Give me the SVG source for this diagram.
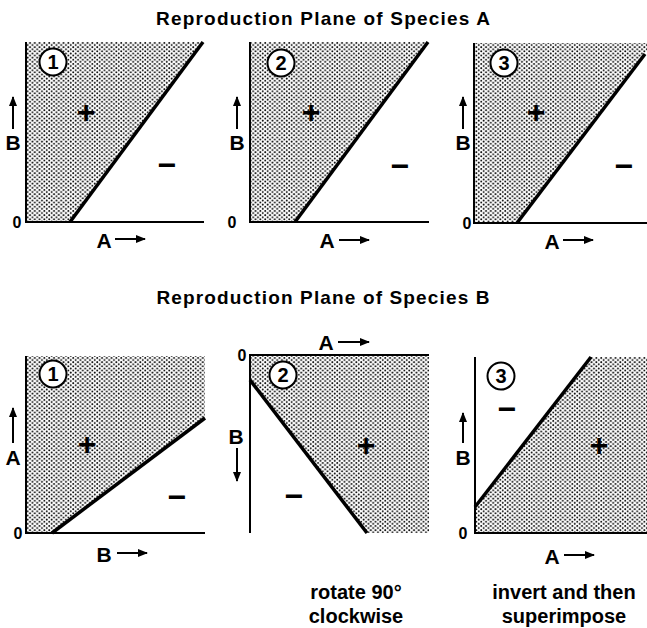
<svg xmlns="http://www.w3.org/2000/svg" width="647" height="628" viewBox="0 0 647 628">
<defs>
<pattern id="dots" patternUnits="userSpaceOnUse" width="4.8" height="4.2">
<circle cx="1.2" cy="1" r="0.95" fill="#000"/>
<circle cx="3.6" cy="3.1" r="0.95" fill="#000"/>
</pattern>
<marker id="ah" viewBox="0 0 10 8" refX="9" refY="4" markerWidth="11" markerHeight="8" markerUnits="userSpaceOnUse" orient="auto">
<path d="M0,0 L10,4 L0,8 Z" fill="#000"/>
</marker>
</defs>
<style>
text{font-family:"Liberation Sans",Arial,sans-serif;font-weight:bold;fill:#000}
.title{font-size:19px;text-anchor:middle}
.ax{font-size:21px;text-anchor:middle}
.zero{font-size:16px;text-anchor:middle}
.sign{font-size:32px;text-anchor:middle}
.num{font-size:20px;text-anchor:middle}
.cap{font-size:20px;text-anchor:middle}
.axis{stroke:#000;stroke-width:2;fill:none}
.bound{stroke:#000;stroke-width:3.5;fill:none}
.arr{stroke:#000;stroke-width:2;fill:none;marker-end:url(#ah)}
.circ{fill:#fff;stroke:#000;stroke-width:2}
</style>
<rect width="647" height="628" fill="#fff"/>

<text class="title" x="323" y="25" textLength="334">Reproduction Plane of Species A</text>
<text class="title" x="323" y="304" textLength="333">Reproduction Plane of Species B</text>

<g id="a1">
<polygon points="26,42 203,42 70,222 26,222" fill="url(#dots)"/>
<polyline class="axis" points="26,42 26,222 204,222"/>
<line class="bound" x1="70" y1="222" x2="203" y2="42"/>
<circle class="circ" cx="53" cy="62" r="13.5"/>
<text class="num" x="53" y="69">1</text>
<text class="sign" x="86" y="123">+</text>
<text class="sign" x="167" y="176">−</text>
<text class="ax" x="13" y="150">B</text>
<line class="arr" x1="13" y1="129" x2="13" y2="97"/>
<text class="zero" x="17" y="228">0</text>
<text class="ax" x="104" y="248">A</text>
<line class="arr" x1="115" y1="239" x2="145" y2="239"/>
</g>

<g id="a2">
<polygon points="250,42 428,42 295,222 250,222" fill="url(#dots)"/>
<polyline class="axis" points="250,42 250,222 429,222"/>
<line class="bound" x1="295" y1="222" x2="428" y2="42"/>
<circle class="circ" cx="281" cy="63" r="13.5"/>
<text class="num" x="281" y="70">2</text>
<text class="sign" x="311" y="123">+</text>
<text class="sign" x="400" y="177">−</text>
<text class="ax" x="237" y="150">B</text>
<line class="arr" x1="237" y1="129" x2="237" y2="97"/>
<text class="zero" x="232" y="228">0</text>
<text class="ax" x="327" y="248">A</text>
<line class="arr" x1="339" y1="240" x2="369" y2="240"/>
</g>

<g id="a3">
<polygon points="474,43 647,43 647,50 517,223 474,223" fill="url(#dots)"/>
<polyline class="axis" points="474,43 474,223 647,223"/>
<line class="bound" x1="517" y1="223" x2="645" y2="54"/>
<circle class="circ" cx="504" cy="63" r="13.5"/>
<text class="num" x="504" y="70">3</text>
<text class="sign" x="536" y="123">+</text>
<text class="sign" x="624" y="177">−</text>
<text class="ax" x="463" y="150">B</text>
<line class="arr" x1="463" y1="129" x2="463" y2="97"/>
<text class="zero" x="467" y="229">0</text>
<text class="ax" x="552" y="249">A</text>
<line class="arr" x1="563" y1="240" x2="593" y2="240"/>
</g>

<g id="b1">
<polygon points="26,356 205,356 205,418 52,533 26,533" fill="url(#dots)"/>
<polyline class="axis" points="26,356 26,533 205,533"/>
<line class="bound" x1="52" y1="533" x2="205" y2="418"/>
<circle class="circ" cx="53" cy="374" r="13.5"/>
<text class="num" x="53" y="381">1</text>
<text class="sign" x="87" y="455">+</text>
<text class="sign" x="177" y="508">−</text>
<text class="ax" x="13" y="465">A</text>
<line class="arr" x1="13" y1="443" x2="13" y2="408"/>
<text class="zero" x="18" y="539">0</text>
<text class="ax" x="104" y="562">B</text>
<line class="arr" x1="117" y1="553" x2="147" y2="553"/>
</g>

<g id="b2">
<polygon points="250,355 429,355 429,533 367,533 250,380" fill="url(#dots)"/>
<polyline class="axis" points="429,355 250,355 250,533"/>
<line class="bound" x1="250" y1="380" x2="367" y2="533"/>
<circle class="circ" cx="283" cy="375" r="13.5"/>
<text class="num" x="283" y="382">2</text>
<text class="sign" x="366" y="456">+</text>
<text class="sign" x="294" y="507">−</text>
<text class="zero" x="242" y="361">0</text>
<text class="ax" x="326" y="350">A</text>
<line class="arr" x1="338" y1="342" x2="369" y2="342"/>
<text class="ax" x="236" y="444">B</text>
<line class="arr" x1="237" y1="448" x2="237" y2="481"/>
</g>

<g id="b3">
<polygon points="591,357 647,357 647,533 475,533 475,507" fill="url(#dots)"/>
<polyline class="axis" points="475,357 475,533 647,533"/>
<line class="bound" x1="475" y1="507" x2="591" y2="357"/>
<circle class="circ" cx="501" cy="376" r="13.5"/>
<text class="num" x="501" y="383">3</text>
<text class="sign" x="507" y="420">−</text>
<text class="sign" x="599" y="456">+</text>
<text class="ax" x="463" y="465">B</text>
<line class="arr" x1="463" y1="443" x2="463" y2="413"/>
<text class="zero" x="463" y="539">0</text>
<text class="ax" x="552" y="564">A</text>
<line class="arr" x1="564" y1="555" x2="594" y2="555"/>
</g>

<g id="captions">
<text class="cap" x="356" y="599">rotate 90°</text>
<text class="cap" x="356" y="623">clockwise</text>
<text class="cap" x="564" y="599">invert and then</text>
<text class="cap" x="564" y="623">superimpose</text>
</g>
</svg>
